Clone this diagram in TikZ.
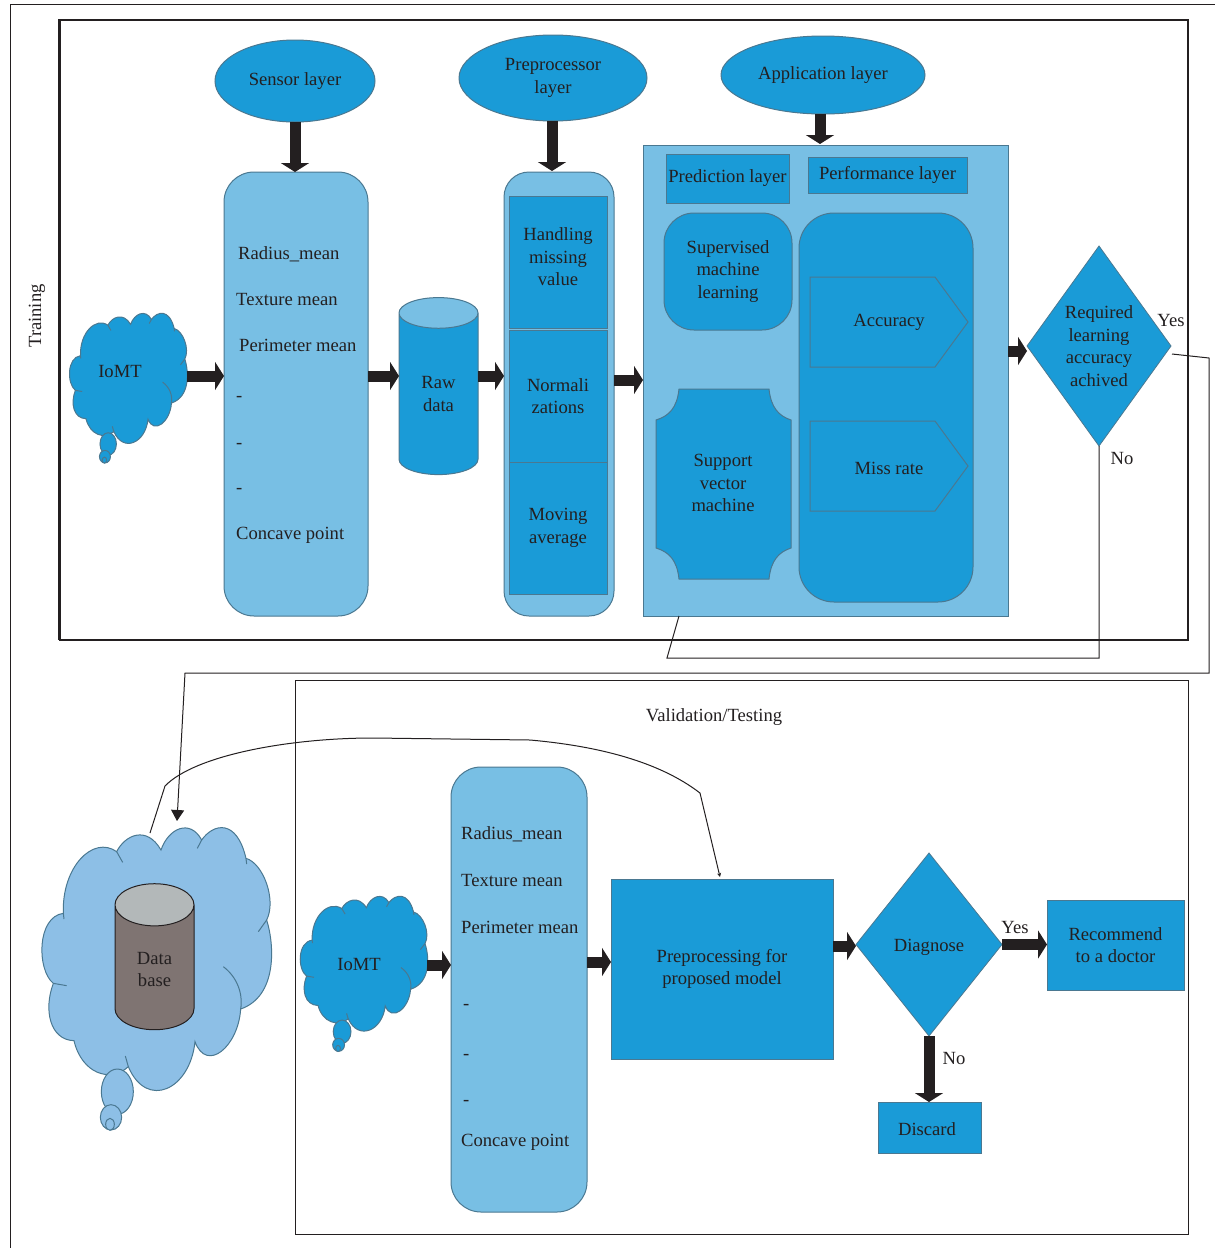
\documentclass[tikz,border=0pt]{standalone}
\usepackage{fontspec}
\setmainfont{Liberation Serif}
\usetikzlibrary{shapes.geometric, arrows.meta}
\definecolor{boxd}{RGB}{26,155,215}
\definecolor{boxl}{RGB}{120,191,228}
\definecolor{cloudl}{RGB}{141,191,230}
\definecolor{edge}{RGB}{74,120,145}
\definecolor{ink}{RGB}{35,31,32}
\definecolor{dbbody}{RGB}{127,116,114}
\definecolor{dbtop}{RGB}{179,184,185}
\tikzset{
	lbl/.style={font=\fontsize{18.6}{22.5}\selectfont, text=ink, align=center, inner sep=0pt},
	lbll/.style={lbl, anchor=west},
	bx/.style={lbl, draw=edge, line width=1pt, outer sep=0pt, minimum width=#1},
	bigarrow/.style={-{Triangle[width=28pt,length=9pt]}, line width=11pt, draw=ink},
	thin line/.style={draw=ink, line width=1pt},
	pics/cloudblob/.style={code={
		\draw[fill=#1, draw=edge, line width=1pt] (350,395) .. controls (375,345) and (440,315) .. (483,390)
			.. controls (505,325) and (570,295) .. (605,360)
			.. controls (640,310) and (710,295) .. (738,415)
			.. controls (790,430) and (830,540) .. (800,600)
			.. controls (825,680) and (830,830) .. (722,867)
			.. controls (715,980) and (620,1060) .. (585,965)
			.. controls (570,1110) and (440,1170) .. (385,1040)
			.. controls (330,1090) and (245,1060) .. (222,962)
			.. controls (150,960) and (130,870) .. (160,790)
			.. controls (110,750) and (110,590) .. (190,580)
			.. controls (185,440) and (280,345) .. (350,395) -- cycle;
		\draw[draw=edge, line width=1pt] (350,395) -- (368,427);
		\draw[draw=edge, line width=1pt] (605,360) -- (592,385);
		\draw[draw=edge, line width=1pt] (738,415) -- (740,432);
		\draw[draw=edge, line width=1pt] (800,600) -- (775,635);
		\draw[draw=edge, line width=1pt] (670,740) .. controls (710,770) and (730,820) .. (722,867);
		\draw[draw=edge, line width=1pt] (385,1040) -- (376,1008);
		\draw[draw=edge, line width=1pt] (160,790) -- (200,797);
		\draw[draw=edge, line width=1pt] (190,580) -- (192,597);
		\draw[fill=#1, draw=edge, line width=1pt] (352,1115) ellipse [x radius=48, y radius=68];
		\draw[fill=#1, draw=edge, line width=1pt] (333,1192) ellipse [x radius=32, y radius=38];
		\draw[fill=#1, draw=edge, line width=1pt] (330,1213) ellipse [x radius=13, y radius=18];
	}},
}
\begin{document}
\begin{tikzpicture}[x=1pt, y=-1pt]
		\useasboundingbox (0,0) rectangle (1215,1248);
		\draw[thin line] (10,1248) -- (10,4) -- (1215,4);
		\draw[draw=ink, line width=1pt] (58,19) rectangle (1187,639);
		\draw[draw=ink, line width=1.6pt] (60,20) rectangle (1188,640);
		\draw[draw=ink, line width=1pt] (295,680) rectangle (1188,1234);
		\node[lbl, rotate=90] (ttrain) at (37,316) {Training};
		\node[lbl] (tval) at (714,717) {Validation/Testing};

		\node[bx=160pt, ellipse, fill=boxd, minimum height=82pt] (n1) at (295,81) {Sensor layer};
		\node[bx=188pt, ellipse, fill=boxd, minimum height=86pt] (n2) at (553,78) {Preprocessor\\layer};
		\node[bx=204pt, ellipse, fill=boxd, minimum height=78pt] (n3) at (823,75) {Application layer};

		\pic[xscale=.171, yscale=.165] (c1) at (48,260) {cloudblob=boxd};
		\node[lbl] (n4) at (120,371) {IoMT};
		\coordinate (n4r) at (187,376);

		\node[bx=144pt, fill=boxl, rounded corners=30pt, minimum height=444pt] (n5) at (296,394) {};
		\node[lbll] (n5a) at (238,254) {Radius\_mean};
		\node[lbll] (n5b) at (236,299) {Texture mean};
		\node[lbll] (n5c) at (239,345) {Perimeter mean};
		\node[lbll] (n5d) at (236,399) {-};
		\node[lbll] (n5e) at (236,446) {-};
		\node[lbll] (n5f) at (236,491) {-};
		\node[lbll] (n5g) at (236,535) {Concave point};

		\node[lbl, cylinder, draw=edge, line width=1pt, shape border rotate=90, aspect=.9, cylinder uses custom fill, cylinder body fill=boxd, cylinder end fill=boxl, minimum width=79pt, minimum height=177pt, outer sep=0pt] (n6) at (438.5,394) {Raw\\data};

		\node[bx=110pt, fill=boxl, rounded corners=25pt, minimum height=444pt] (n7) at (559,394) {};
		\node[bx=98pt, fill=boxd, minimum height=132pt] (n7a) at (558,262) {};
		\node[bx=98pt, fill=boxd, minimum height=132pt] (n7b) at (558,396) {Normali\\zations};
		\node[bx=98pt, fill=boxd, minimum height=132pt] (n7c) at (558,528) {Moving\\average};
		\node[lbl] (n7t) at (558,257) {Handling\\missing\\value};

		\node[bx=365pt, fill=boxl, minimum height=471pt] (n8) at (825.5,380.5) {};
		\node[bx=123pt, fill=boxd, minimum height=49pt] (n8a) at (727.5,178.5) {Prediction layer};
		\node[bx=159pt, fill=boxd, minimum height=36pt] (n8b) at (887.5,175) {Performance layer};
		\node[bx=128pt, fill=boxd, rounded corners=30pt, minimum height=117pt] (n8c) at (728,271.5) {Supervised\\machine\\learning};
		\node[bx=174pt, fill=boxd, rounded corners=35pt, minimum height=389pt] (n8d) at (886,407.5) {};
		\draw[fill=boxd, draw=edge, line width=1pt] (810,277) -- (935,277) -- (968,322) -- (935,367) -- (810,367) -- cycle;
		\node[lbl] (n8e) at (889,322) {Accuracy};
		\draw[fill=boxd, draw=edge, line width=1pt] (810,421) -- (935,421) -- (968,466) -- (935,511) -- (810,511) -- cycle;
		\node[lbl] (n8f) at (889,468) {Miss rate};
		\draw[fill=boxd, draw=edge, line width=1pt] (679,389) -- (769,389) .. controls (771,408) and (779,416) .. (791,420) -- (791,548) .. controls (779,552) and (771,560) .. (769,579) -- (679,579) .. controls (677,560) and (669,552) .. (656,548) -- (656,420) .. controls (669,416) and (677,408) .. (679,389) -- cycle;
		\node[lbl] (n8g) at (723,483) {Support\\vector\\machine};

		\node[bx=144pt, diamond, fill=boxd, aspect=.72, minimum height=200pt, line width=.8pt] (n9) at (1099,346) {Required\\learning\\accuracy\\achived};
		\node[lbl] (tyes1) at (1171,320) {Yes};
		\node[lbl] (tno1) at (1122,458) {No};

		\draw[bigarrow] (n1) -- (n1 |- n5.north);
		\draw[bigarrow] (552,121) -- (552,171);
		\draw[bigarrow] (820,114) -- (820,144);
		\draw[bigarrow] (n4r) -- (n4r -| n5.west);
		\coordinate (a1) at (n5.east |- n4r);
		\draw[bigarrow] (a1) -- (a1 -| n6.west);
		\coordinate (a2) at (n6.east |- n4r);
		\draw[bigarrow] (a2) -- (a2 -| n7.west);
		\coordinate (a3) at (n7.east |- 0,380);
		\draw[bigarrow] (a3) -- (a3 -| n8.west);
		\coordinate (a4) at (n8.east |- 0,351);
		\draw[bigarrow] (a4) -- (n9.west |- a4);

		\coordinate (a5) at (679,616);
		\draw[thin line] (n9.south) -- (n9.south |- 0,658) -- (667,658) -- (a5);
		\coordinate (a6) at (1172,354);
		\coordinate (a7) at (177,821);
		\draw[thin line, -{Triangle[width=13pt,length=11pt]}] (a6) -- (1209,358) -- (1209,673) -- (185,673) -- (a7);

		\pic[xscale=1/3, yscale=1/3] (c2) at (0,720) {cloudblob=cloudl};
		\node[lbl, cylinder, draw=ink, line width=1pt, shape border rotate=90, aspect=1.2, cylinder uses custom fill, cylinder body fill=dbbody, cylinder end fill=dbtop, minimum width=79pt, minimum height=146pt, outer sep=0pt] (n10) at (154.5,967.5) {\phantom{Data}\\\phantom{base}};
		\node[lbl] (n10t) at (154.5,969.5) {Data\\base};
		\coordinate (a8) at (150,833);

		\pic[xscale=.185, yscale=.171] (c3) at (277,841) {cloudblob=boxd};
		\node[lbl] (n11) at (359,964) {IoMT};
		\coordinate (n11r) at (427,965);

		\node[bx=136pt, fill=boxl, rounded corners=30pt, minimum height=445pt] (n12) at (519,989.5) {};
		\node[lbll] (n12a) at (461,834) {Radius\_mean};
		\node[lbll] (n12b) at (461,880) {Texture mean};
		\node[lbll] (n12c) at (461,927) {Perimeter mean};
		\node[lbll] (n12d) at (463,1007) {-};
		\node[lbll] (n12e) at (463,1057) {-};
		\node[lbll] (n12f) at (463,1103) {-};
		\node[lbll] (n12g) at (461,1142) {Concave point};

		\node[bx=222pt, fill=boxd, minimum height=180pt] (n13) at (722,969) {Preprocessing for\\proposed model};
		\node[bx=146pt, diamond, fill=boxd, aspect=.8, minimum height=183pt, line width=.8pt] (n14) at (929,944.5) {};
		\node[lbl] (n14t) at (929,947) {Diagnose};
		\node[bx=137pt, fill=boxd, minimum height=90pt] (n15) at (1115.5,945) {Recommend\\to a doctor};
		\node[bx=103pt, fill=boxd, minimum height=51pt] (n16) at (929.5,1127.5) {};
		\node[lbl] (n16t) at (927,1129.5) {Discard};
		\node[lbl] (tyes2) at (1015,927) {Yes};
		\node[lbl] (tno2) at (954,1058) {No};

		\draw[bigarrow] (n11r) -- (n11r -| n12.west);
		\coordinate (a9) at (n12.east |- 0,962);
		\draw[bigarrow] (a9) -- (a9 -| n13.west);
		\coordinate (a10) at (n13.east |- 0,946);
		\draw[bigarrow] (a10) -- (n14.west |- a10);
		\draw[bigarrow] (n14.east) -- (n14.east -| n15.west);
		\draw[bigarrow] (n14.south) -- (n14.south |- n16.north);

		\draw[thin line, -{Stealth[width=4pt,length=4pt]}] (a8) -- (165,786) .. controls (195,755) and (290,738) .. (373,738) -- (530,740) .. controls (620,748) and (670,770) .. (700,793) -- (720,877);
		\end{tikzpicture}
\end{document}
